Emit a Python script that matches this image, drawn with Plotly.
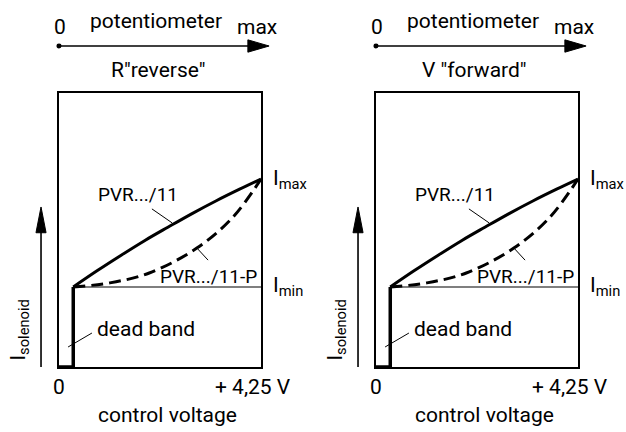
import plotly.graph_objects as go

# ---- data (normalized solenoid current vs control voltage) ----
dead_band_v = [0.0, 0.3, 0.3]
dead_band_i = [0.0, 0.0, 0.292]

imin_v = [0.3, 4.25]
imin_i = [0.292, 0.292]

pvr11_v = [0.3, 0.8, 1.3, 1.8, 2.3, 2.8, 3.3, 3.8, 4.25]
pvr11_i = [0.292, 0.351, 0.407, 0.461, 0.511, 0.560, 0.606, 0.649, 0.686]

pvr11p_v = [0.3, 1.07, 1.9, 2.9, 3.66, 4.25]
pvr11p_i = [0.292, 0.307, 0.343, 0.434, 0.547, 0.686]

I_MIN = 0.292
I_MAX = 0.686

panel_titles = ['R"reverse"', 'V "forward"']
x_domains = [[59 / 626, 261 / 626], [376 / 626, 578 / 626]]
y_domain = [65 / 432, 339 / 432]

FONT = "Roboto, Liberation Sans, sans-serif"
FS = 21
FS_LBL = 19

fig = go.Figure()
annotations = []
shapes = []

for k in range(2):
    sx = "" if k == 0 else "2"
    xa, ya = "x" + sx, "y" + sx
    xd, yd = xa + " domain", ya + " domain"

    fig.add_trace(go.Scatter(x=dead_band_v, y=dead_band_i, mode="lines",
                             line=dict(color="black", width=3.5),
                             xaxis=xa, yaxis=ya, showlegend=False))
    fig.add_trace(go.Scatter(x=imin_v, y=imin_i, mode="lines",
                             line=dict(color="black", width=1.2),
                             xaxis=xa, yaxis=ya, showlegend=False))
    fig.add_trace(go.Scatter(x=pvr11p_v, y=pvr11p_i, mode="lines",
                             line=dict(color="black", width=3, dash="12px,6px", shape="spline"),
                             xaxis=xa, yaxis=ya, showlegend=False))
    fig.add_trace(go.Scatter(x=pvr11_v, y=pvr11_i, mode="lines",
                             line=dict(color="black", width=3, shape="spline"),
                             xaxis=xa, yaxis=ya, showlegend=False))

    ax_common = dict(showgrid=False, zeroline=False, showticklabels=False, ticks="",
                     showline=True, linecolor="black", linewidth=1.6, mirror=True)
    fig.update_layout(**{
        ("xaxis" + sx): dict(domain=x_domains[k], range=[0, 4.25], anchor=ya, **ax_common),
        ("yaxis" + sx): dict(domain=y_domain, range=[0, 1], anchor=xa, **ax_common),
    })

    def txt(text, x, y, xanchor="center", yanchor="middle", yref=yd, size=FS, angle=0):
        annotations.append(dict(text=text, x=x, y=y, xref=xd, yref=yref, showarrow=False,
                                xanchor=xanchor, yanchor=yanchor, textangle=angle,
                                font=dict(family=FONT, size=size, color="black")))

    # top potentiometer arrow
    txt("0", 0.005, 1.241)
    txt("potentiometer", 0.48, 1.262)
    txt("max", 0.98, 1.241)
    txt(panel_titles[k], 0.49, 1.084)
    shapes.append(dict(type="line", xref=xd, yref=yd, x0=0, x1=0.95, y0=1.1715, y1=1.1715,
                       line=dict(color="black", width=1.6)))
    shapes.append(dict(type="path", xref=xd, yref=yd,
                       path="M 1.04,1.1715 L 0.935,1.149 L 0.935,1.194 Z",
                       fillcolor="black", line=dict(color="black", width=1)))
    shapes.append(dict(type="circle", xref=xd, yref=yd, x0=-0.0124, x1=0.0124,
                       y0=1.1715 - 0.0091, y1=1.1715 + 0.0091,
                       fillcolor="black", line=dict(color="black", width=0)))

    # y arrow
    shapes.append(dict(type="line", xref=xd, yref=yd, x0=-0.089, x1=-0.089, y0=0, y1=0.5,
                       line=dict(color="black", width=1.6)))
    shapes.append(dict(type="path", xref=xd, yref=yd,
                       path="M -0.089,0.584 L -0.114,0.49 L -0.064,0.49 Z",
                       fillcolor="black", line=dict(color="black", width=1)))
    txt("I<sub>solenoid</sub>", -0.2, 0.135, angle=-90)

    # curve labels
    txt("I<sub>max</sub>", 1.05, I_MAX, xanchor="left", yref=ya)
    txt("I<sub>min</sub>", 1.05, I_MIN, xanchor="left", yref=ya)
    txt("PVR.../11", 0.39, 0.628, size=FS_LBL)
    shapes.append(dict(type="line", xref=xd, yref=yd, x0=0.46, x1=0.56, y0=0.577, y1=0.526,
                       line=dict(color="black", width=1)))
    txt("PVR.../11-P", 0.99, 0.33, xanchor="right", size=FS_LBL)
    shapes.append(dict(type="line", xref=xd, yref=yd, x0=0.683, x1=0.738, y0=0.434, y1=0.39,
                       line=dict(color="black", width=1)))
    txt("dead band", 0.178, 0.139, xanchor="left")
    shapes.append(dict(type="line", xref=xd, yref=yd, x0=0.045, x1=0.163, y0=0.073, y1=0.124,
                       line=dict(color="black", width=1)))

    # x labels
    txt("0", 0.0, -0.073)
    txt("+ 4,25 V", 1.16, -0.073, xanchor="right")
    txt("control voltage", 0.535, -0.175)

fig.update_layout(width=626, height=432, margin=dict(l=0, r=0, t=0, b=0),
                  paper_bgcolor="white", plot_bgcolor="white",
                  annotations=annotations, shapes=shapes, showlegend=False)

fig.write_html("out.html", config={"displayModeBar": False},
               post_script="document.body.style.margin='0';")
